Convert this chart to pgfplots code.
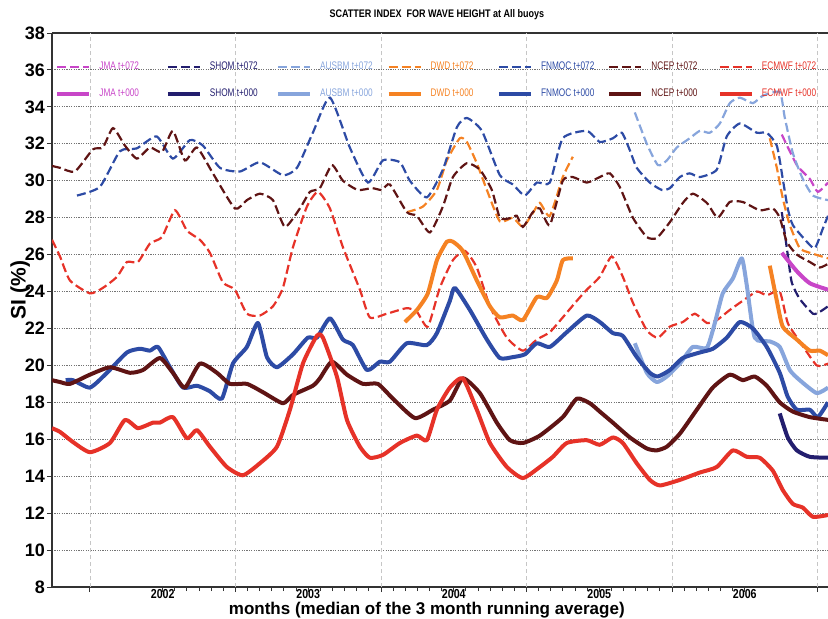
\documentclass[border=0pt]{standalone}
\usepackage{fontspec}
\setmainfont{Liberation Sans}
\usepackage{graphicx}
\usepackage{pgfplots}
\pgfplotsset{compat=1.18}
\definecolor{jma}{RGB}{200,70,200}
\definecolor{shom}{RGB}{35,30,110}
\definecolor{ausbm}{RGB}{135,165,220}
\definecolor{dwd}{RGB}{245,130,35}
\definecolor{fnmoc}{RGB}{45,75,165}
\definecolor{ncep}{RGB}{95,20,20}
\definecolor{ecmwf}{RGB}{230,50,40}
\pgfplotsset{
  d072/.style={line width=1.1pt, dash pattern=on 4.5pt off 2pt, smooth, tension=0.35},
  s000/.style={line width=2pt, smooth, tension=0.35, line join=round},
  legend image code/.code={\draw[#1] (0pt,0pt) -- (16pt,0pt);},
}
\newcommand{\lt}[2]{\makebox[32.2pt][l]{\textcolor{#1}{\scalebox{0.75}[1]{#2}}}}
\begin{document}
\begin{tikzpicture}
\useasboundingbox (-26pt,-15.5pt) rectangle (388pt,293.5pt);
\begin{axis}[
  at={(0pt,0pt)}, anchor=south west,
  width=388pt, height=277pt, scale only axis,
  xmin=-3.13, xmax=60.86, ymin=8, ymax=38,
  axis y line*=left,
  xtick pos=bottom,
  ytick={8,10,...,38},
  xtick={6,18,30,42,54},
  xticklabels={\scalebox{0.82}[1]{2002},\scalebox{0.82}[1]{2003},\scalebox{0.82}[1]{2004},\scalebox{0.82}[1]{2005},\scalebox{0.82}[1]{2006}},
  minor x tick num=11,
  extra x ticks={0,12,24,36,48,60},
  extra x tick labels={},
  extra x tick style={xmajorgrids=true, major grid style={gray!45, dash pattern=on 2pt off 1.5pt, line width=0.4pt}},
  ymajorgrids=true,
  major grid style={black!55, dash pattern=on 0.6pt off 0.6pt, line width=0.5pt},
  tick align=outside,
  major tick length=2.5pt, minor tick length=2pt,
  axis line style={black!80, line width=0.8pt},
  every tick/.style={black!80, line width=0.5pt},
  /pgf/number format/assume math mode=true,
  yticklabel style={font=\bfseries\fontsize{9}{10}\selectfont, xshift=2.5pt},
  xticklabel style={font=\bfseries\fontsize{6.5}{7}\selectfont, yshift=5pt},
  xlabel={months (median of the 3 month running average)},
  xlabel style={font=\bfseries\fontsize{8.5}{10}\selectfont, at={(axis description cs:0.483,-0.041)}, anchor=center},
  ylabel={SI (\%)},
  ylabel style={font=\bfseries\fontsize{10.5}{12}\selectfont, at={(axis description cs:-0.041,0.536)}, anchor=center},
  title={\scalebox{0.82}[1]{SCATTER INDEX\ \ FOR WAVE HEIGHT at All buoys}},
  title style={font=\bfseries\fontsize{5.5}{6}\selectfont, at={(axis description cs:0.496,1.0325)}, anchor=center, yshift=-6pt},
  legend columns=7,
  legend cell align=left,
  legend style={at={(rel axis cs:0,1)}, anchor=north west, xshift=1.5pt, yshift=-13pt,
    draw=none, fill=none, font=\fontsize{5.5}{6}\selectfont, inner sep=0pt, row sep=6.5pt,
    nodes={inner sep=1pt}, /tikz/every odd column/.append style={column sep=3pt}},
]
% ---------- t+072 (dashed) ----------
\addplot[d072, jma] table {
57.05 32.5
58.29 30.85
59.36 30.1
60.02 29.4
60.86 29.9
};
\addlegendentry{\lt{jma}{JMA t+072}}
\addplot[d072, shom] table {
57.05 28.3
57.54 26.0
57.87 24.5
58.53 23.6
59.62 22.8
60.18 22.9
60.86 23.2
};
\addlegendentry{\lt{shom}{SHOM t+072}}
\addplot[d072, ausbm] table {
44.93 33.7
45.92 32.0
46.83 30.85
47.57 31.1
48.39 31.8
49.46 32.3
50.29 32.7
51.11 32.6
51.94 33.1
52.76 34.2
53.59 34.5
54.66 34.2
55.48 34.6
56.88 34.8
57.30 33.4
57.96 31.5
58.78 30.1
59.62 29.2
60.86 28.95
};
\addlegendentry{\lt{ausbm}{AUSBM t+072}}
\addplot[d072, dwd] table {
26.13 28.3
27.45 28.6
28.61 29.5
29.43 31.1
30.50 32.3
31.08 32.1
31.90 30.95
32.73 29.5
33.80 27.8
34.87 28.0
35.70 27.5
36.52 28.25
37.10 28.8
37.92 28.1
38.99 30.2
39.82 31.3
};
\addlegendentry{\lt{dwd}{DWD t+072}}
\addplot[d072, fnmoc] table {
-1.07 29.2
0.82 29.67
2.47 31.6
3.85 31.75
5.5 32.4
6.84 31.2
8.24 32.2
9.32 31.9
10.72 30.7
12.37 30.5
14.01 31.0
15.91 30.3
17.07 30.7
18.38 32.6
19.79 34.5
21.43 31.8
22.92 29.9
24.15 31.1
25.56 31.0
26.38 30.0
27.78 29.1
29.10 30.6
30.26 32.9
31.08 33.4
32.32 32.7
33.80 30.3
34.87 29.8
35.86 29.2
36.85 29.9
37.92 29.9
38.99 32.3
40.97 32.7
42.04 32.1
43.12 32.3
43.86 32.6
44.52 31.65
45.09 30.7
46.17 29.9
47.16 29.5
47.82 29.6
48.64 30.2
49.46 30.4
50.29 30.2
51.69 30.6
52.51 32.4
53.59 33.1
54.99 32.6
55.81 32.6
56.64 31.9
57.13 30.1
57.54 28.5
57.96 27.6
59.11 26.7
59.78 26.35
60.43 27.4
60.86 28.1
};
\addlegendentry{\lt{fnmoc}{FNMOC t+072}}
\addplot[d072, ncep] table {
-3.13 30.8
-2.47 30.7
-1.24 30.5
0.25 31.7
1.07 31.8
1.90 32.85
2.89 31.9
3.87 31.2
4.95 31.8
5.94 31.55
6.84 32.7
7.83 31.1
8.82 31.8
10.14 30.4
11.95 28.5
12.94 28.95
14.01 29.3
15.09 28.95
16.08 27.5
17.31 28.5
18.14 29.4
18.96 29.6
19.95 30.85
20.86 30.0
22.09 29.5
23.25 29.6
24.07 29.5
24.73 29.8
26.13 28.3
26.96 28.1
28.03 27.2
29.10 28.6
29.93 30.2
31.08 30.95
32.15 30.6
33.14 29.5
33.80 28.0
34.63 27.97
35.20 28.1
35.70 27.5
36.52 28.3
37.10 28.5
37.92 27.6
38.99 30.0
39.82 30.2
40.97 29.9
42.04 30.2
42.87 30.4
43.69 29.66
44.77 28.0
45.92 26.95
46.74 26.9
47.82 27.76
48.89 28.8
49.71 29.3
50.87 28.8
51.77 28.0
52.76 28.85
53.83 28.85
55.23 28.4
56.31 28.5
56.88 28.0
57.46 26.7
58.29 26.0
59.36 25.6
60.18 25.3
60.86 25.5
};
\addlegendentry{\lt{ncep}{NCEP t+072}}
\addplot[d072, ecmwf] table {
-3.13 26.8
-2.47 25.9
-1.65 24.6
0 23.9
1.07 24.2
2.23 24.8
3.05 25.6
3.96 25.6
4.95 26.6
5.94 26.95
7.01 28.4
8.0 27.3
9.07 26.8
9.89 26.1
10.96 24.5
11.95 24.1
12.94 22.8
14.01 22.7
15.09 23.2
15.91 24.2
16.74 26.4
17.89 28.6
18.80 29.4
19.79 28.5
20.86 26.4
22.26 24.1
23.08 22.6
24.48 22.8
26.13 23.1
26.96 22.9
27.86 22.1
28.85 24.2
29.93 25.7
30.92 26.2
31.90 25.3
32.98 23.2
34.38 21.5
35.70 20.8
36.85 21.4
37.92 21.8
38.99 22.6
40.15 23.5
40.97 24.1
42.04 24.8
43.03 25.9
43.94 24.8
44.77 23.4
45.92 21.9
46.83 21.5
47.82 22.1
48.89 22.35
49.88 22.8
50.87 22.3
51.69 22.45
52.76 23.0
53.83 23.5
54.99 24.0
55.81 23.8
56.88 24.0
57.54 22.3
58.53 21.3
59.93 20.0
60.86 20.1
};
\addlegendentry{\lt{ecmwf}{ECMWF t+072}}
% ---------- t+000 (solid) ----------
\addplot[s000, jma] table {
57.05 26.1
58.29 25.1
59.36 24.45
60.86 24.1
};
\addlegendentry{\lt{jma}{JMA t+000}}
\addplot[s000, shom] table {
56.88 17.4
57.54 16.1
58.29 15.4
59.36 15.05
60.86 15.0
};
\addlegendentry{\lt{shom}{SHOM t+000}}
\addplot[s000, ausbm] table {
44.93 21.2
45.92 19.6
46.74 19.1
47.57 19.4
48.64 20.1
49.71 21.0
50.87 20.95
51.53 22.3
52.18 23.9
53.01 24.7
53.75 25.8
54.16 24.35
54.82 21.5
56.06 21.3
56.88 21.0
57.71 19.75
58.53 19.2
59.93 18.5
60.86 18.8
};
\addlegendentry{\lt{ausbm}{AUSBM t+000}}
\addplot[s000, dwd] table {
25.97 22.35
26.96 23.0
27.86 23.9
28.61 25.7
29.43 26.7
29.93 26.7
30.75 26.2
31.90 24.6
32.98 23.2
33.80 22.6
34.87 22.7
35.70 22.45
36.85 23.7
37.68 23.65
38.50 24.6
38.99 25.7
39.82 25.8
};
\addlegendentry{\lt{dwd}{DWD t+000}}
\addplot[s000, fnmoc] table {
-2.0 19.2
-1.40 19.2
0 18.8
1.40 19.6
3.05 20.7
4.12 20.9
4.95 20.8
5.61 21.0
6.60 19.9
7.67 18.8
8.82 18.9
9.89 18.6
10.88 18.2
11.79 20.1
12.94 21.0
13.85 22.3
14.59 20.45
15.42 19.9
16.74 20.6
17.96 21.5
18.71 21.5
19.79 22.55
20.86 21.4
21.68 21.1
22.84 19.75
23.91 20.2
24.73 20.2
26.13 21.2
27.78 21.1
28.61 21.75
29.68 23.5
30.09 24.2
31.33 23.0
32.73 21.4
33.80 20.4
34.87 20.45
35.86 20.6
36.85 21.2
37.92 21.0
39.32 21.8
40.97 22.7
42.04 22.35
43.12 21.75
43.94 21.6
45.09 20.45
46.17 19.6
46.83 19.4
47.82 19.75
48.89 20.4
50.29 20.7
51.36 20.9
52.51 21.5
53.59 22.35
54.66 22.0
55.81 21.0
56.88 19.6
57.54 18.3
58.29 17.6
59.36 17.6
60.02 17.2
60.86 18.0
};
\addlegendentry{\lt{fnmoc}{FNMOC t+000}}
\addplot[s000, ncep] table {
-3.13 19.2
-2.47 19.1
-1.65 19.0
0 19.5
1.65 19.9
3.30 19.6
4.37 19.75
5.77 20.4
6.84 19.6
7.83 18.8
9.07 20.1
10.47 19.6
11.54 19.0
12.94 19.0
14.26 18.55
15.91 17.95
16.74 18.4
18.38 18.9
18.96 19.3
19.95 20.2
21.19 19.5
22.51 19.0
23.74 19.0
24.98 18.2
26.79 17.15
28.28 17.6
29.68 18.1
30.75 19.3
32.15 18.5
33.55 16.9
34.63 15.95
35.70 15.8
37.10 16.2
38.99 17.2
40.15 18.2
41.22 17.95
42.04 17.5
43.12 16.9
44.52 16.1
45.92 15.5
46.74 15.4
47.57 15.6
48.64 16.3
50.04 17.6
51.36 18.8
52.76 19.5
53.83 19.2
54.82 19.4
55.81 18.9
56.88 18.0
57.96 17.5
59.36 17.2
60.86 17.05
};
\addlegendentry{\lt{ncep}{NCEP t+000}}
\addplot[s000, ecmwf] table {
-3.13 16.6
-2.47 16.4
-1.40 15.85
0 15.3
1.65 15.8
2.89 17.05
3.96 16.6
5.19 16.9
5.77 16.9
6.84 17.2
8.0 16.05
8.82 16.5
9.89 15.6
11.29 14.5
12.61 14.05
14.01 14.7
15.42 15.6
16.49 17.6
17.56 20.1
18.71 21.6
19.21 21.5
20.36 19.4
21.19 17.05
22.26 15.6
23.08 15.0
24.15 15.15
25.56 15.8
26.96 16.2
27.78 15.95
28.61 17.6
29.68 18.8
30.75 19.3
31.90 17.6
32.98 15.8
34.38 14.5
35.70 13.9
37.10 14.5
38.17 15.05
39.32 15.8
40.97 15.95
42.04 15.7
43.12 16.1
43.94 15.8
45.09 14.7
46.17 13.8
47.0 13.5
48.64 13.8
50.29 14.2
51.69 14.5
53.01 15.4
54.16 15.05
55.23 15.0
56.31 14.3
57.13 13.25
57.96 12.5
58.78 12.3
59.62 11.8
60.86 11.9
};
\addlegendentry{\lt{ecmwf}{ECMWF t+000}}
% ---------- second DWD segments ----------
\addplot[d072, dwd, forget plot] table {
56.06 32.3
56.64 30.7
57.13 29.05
57.71 27.6
58.53 26.35
59.36 26.1
60.86 25.8
};
\addplot[s000, dwd, forget plot] table {
56.06 25.4
56.64 23.5
57.13 22.1
58.29 21.4
59.36 20.8
60.18 20.8
60.86 20.55
};
\end{axis}
\end{tikzpicture}
\end{document}
